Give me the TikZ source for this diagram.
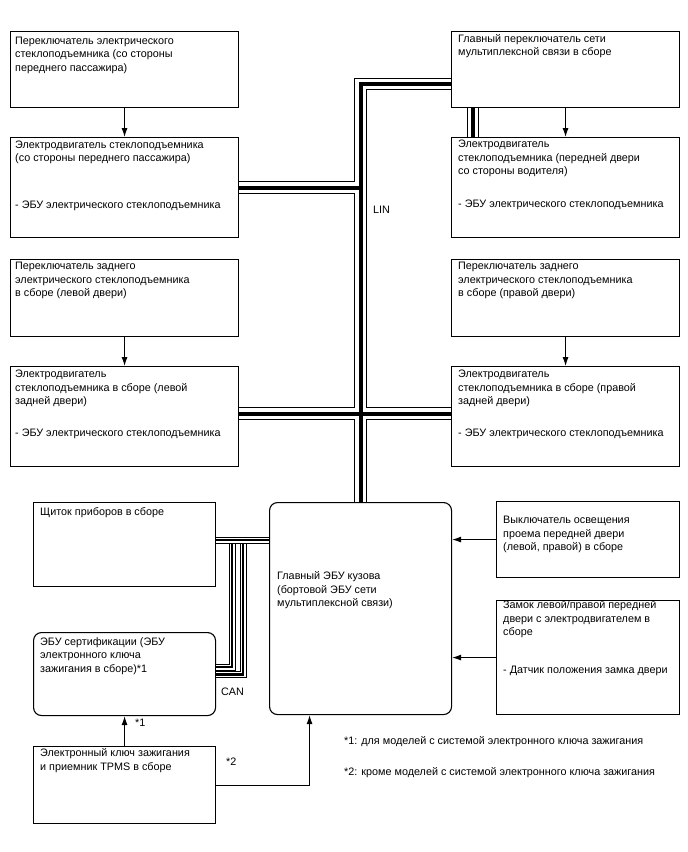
\documentclass[tikz,border=0pt]{standalone}
\usepackage{fontspec}
\setmainfont{Liberation Sans}
\usetikzlibrary{arrows.meta,calc,positioning}

\tikzset{
  box/.style={draw, line width=1.1pt, anchor=north west, inner sep=0pt, minimum width=228pt},
  rbox/.style={box, rounded corners=8pt},
  lbl/.style={anchor=north west, inner sep=0pt, align=left, execute at begin node=\strut},
  tag/.style={anchor=base west, inner sep=0pt},
  arr/.style={-{Latex[length=9pt,width=6pt]}, line width=1pt},
}

\begin{document}
\begin{tikzpicture}[x=1pt,y=-1pt,font=\fontsize{10.8}{13.5}\selectfont]
  \useasboundingbox (0,0) rectangle (688,852);

  % window boxes, left and right
  \node[box, minimum height=76pt]  (b1) at (10,31)  {};
  \node[box, minimum height=100pt] (b2) at (10,137) {};
  \node[box, minimum height=76pt]  (b3) at (451,31)  {};
  \node[box, minimum height=100pt] (b4) at (451,137) {};
  \node[box, minimum height=77pt]  (b5) at (10,259) {};
  \node[box, minimum height=100pt] (b6) at (10,366) {};
  \node[box, minimum height=77pt]  (b7) at (451,259) {};
  \node[box, minimum height=100pt] (b8) at (451,366) {};

  % lower part
  \node[box, minimum width=182pt, minimum height=84pt]   (cluster) at (33,502) {};
  \node[rbox, minimum width=182pt, minimum height=83pt]  (cert) at (33,632) {};
  \node[box, minimum width=182pt, minimum height=77pt]   (tpms) at (33,746) {};
  \node[rbox, minimum width=182pt, minimum height=212pt] (ecu) at (269,502) {};
  \node[box, minimum width=183pt, minimum height=76pt]   (light) at (496,501) {};
  \node[box, minimum width=183pt, minimum height=114pt]  (lock) at (496,600) {};

  % texts
  \node[lbl] (t1) at ($(b1.north west)+(5,5.5)$) {Переключатель электрического\\стеклоподъемника (со стороны\\переднего пассажира)};
  \node[lbl] (t2) at ($(b2.north west)+(5,3.5)$) {Электродвигатель стеклоподъемника\\(со стороны переднего пассажира)};
  \node[lbl] (e2) at ($(b2.north west)+(5,62)$) {- ЭБУ электрического стеклоподъемника};
  \node[lbl] (t3) at ($(b3.north west)+(7,3)$) {Главный переключатель сети\\мультиплексной связи в сборе};
  \node[lbl] (t4) at ($(b4.north west)+(7,3)$) {Электродвигатель\\стеклоподъемника (передней двери\\со стороны водителя)};
  \node[lbl] (e4) at ($(b4.north west)+(7,61)$) {- ЭБУ электрического стеклоподъемника};
  \node[lbl] (t5) at ($(b5.north west)+(5,3)$) {Переключатель заднего\\электрического стеклоподъемника\\в сборе (левой двери)};
  \node[lbl] (t6) at ($(b6.north west)+(5,4)$) {Электродвигатель\\стеклоподъемника в сборе (левой\\задней двери)};
  \node[lbl] (e6) at ($(b6.north west)+(5,61)$) {- ЭБУ электрического стеклоподъемника};
  \node[lbl] (t7) at ($(b7.north west)+(7,3)$) {Переключатель заднего\\электрического стеклоподъемника\\в сборе (правой двери)};
  \node[lbl] (t8) at ($(b8.north west)+(7,4)$) {Электродвигатель\\стеклоподъемника в сборе (правой\\задней двери)};
  \node[lbl] (e8) at ($(b8.north west)+(7,61)$) {- ЭБУ электрического стеклоподъемника};

  \node[lbl] (tc) at ($(cluster.north west)+(7,3.5)$) {Щиток приборов в сборе};
  \node[lbl] (tk) at ($(cert.north west)+(7,5)$) {ЭБУ сертификации (ЭБУ\\электронного ключа\\зажигания в сборе)*1};
  \node[lbl] (tt) at ($(tpms.north west)+(7,2.5)$) {Электронный ключ зажигания\\и приемник TPMS в сборе};
  \node[lbl] (te) at ($(ecu.north west)+(8,69.5)$) {Главный ЭБУ кузова\\(бортовой ЭБУ сети\\мультиплексной связи)};
  \node[lbl] (tl) at ($(light.north west)+(7,15)$) {Выключатель освещения\\проема передней двери\\(левой, правой) в сборе};
  \node[lbl] (td) at ($(lock.north west)+(7,0.5)$) {Замок левой/правой передней\\двери с электродвигателем в\\сборе};
  \node[lbl] (ed) at ($(lock.north west)+(7,63.5)$) {- Датчик положения замка двери};

  \node[tag] (lin) at (373,213) {LIN};
  \node[tag] (can) at (221,695) {CAN};
  \node[tag] (s1) at (135,726.5) {*1};
  \node[tag] (s2) at (226,765) {*2};
  \node[tag] (n1) at (344,744) {*1: для моделей с системой электронного ключа зажигания};
  \node[tag] (n2) at (344,775) {*2: кроме моделей с системой электронного ключа зажигания};

  % arrows
  \draw[arr] (b1.south) -- (b2.north);
  \draw[arr] (b3.south) -- (b4.north);
  \draw[arr] (b5.south) -- (b6.north);
  \draw[arr] (b7.south) -- (b8.north);
  \draw[arr] (tpms.north) -- (cert.south);
  \draw[arr] (tpms.east) -| ($(ecu.south)+(-51,0)$);
  \draw[arr] (light.west) -- (light.west -| ecu.east);
  \draw[arr] (lock.west) -- (lock.west -| ecu.east);

  % LIN cables
  \coordinate (lintop) at (360,84);
  \foreach \w/\c in {12.5pt/black, 10.5pt/white, 4pt/black}{
    \draw[line width=\w, \c] (ecu.north) -- (ecu.north |- lintop) -- (b3.west |- lintop);
    \draw[line width=\w, \c] (b2.east) -- (b2.east -| ecu.north);
    \draw[line width=\w, \c] ($(b6.east)+(0,-3)$) -- ($(b8.west)+(0,-3)$);
    \draw[line width=\w, \c] ($(b3.south west)+(22,0)$) -- ($(b4.north west)+(22,0)$);
  }
  % CAN cables
  \coordinate (canin) at (232,543.5);
  \coordinate (canout) at (243,543.5);
  \foreach \w/\c in {7pt/black, 5pt/white, 2.5pt/black}
    \draw[line width=\w, \c] (cluster.east |- 0,540) -- (ecu.west |- 0,540);
  \foreach \w/\c in {7pt/black, 5pt/white, 2.5pt/black}
    \draw[line width=\w, \c] (canin) -- (canin |- 0,667) -- (cert.east |- 0,667);
  \foreach \w/\c in {7pt/black, 5pt/white, 2.5pt/black}
    \draw[line width=\w, \c] (canout) -- (canout |- 0,674.5) -- (cert.east |- 0,674.5);
\end{tikzpicture}
\end{document}
